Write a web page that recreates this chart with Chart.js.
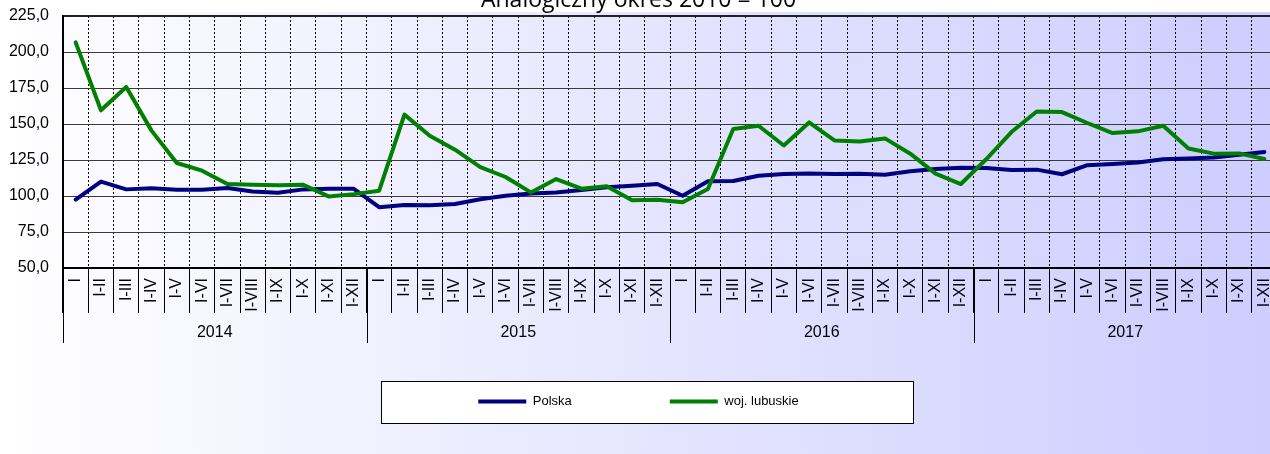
<!DOCTYPE html>
<html>
<head>
<meta charset="utf-8">
<script src="https://cdn.jsdelivr.net/npm/chart.js@4/dist/chart.umd.min.js"></script>
<style>
  html, body { margin: 0; padding: 0; background: #fff; overflow: hidden; width: 1270px; height: 454px; }
  #wrap { position: absolute; left: 0; top: -13px; width: 1294px; height: 467px; }
</style>
</head>
<body>
<div id="wrap"><canvas id="c" width="1294" height="467"></canvas></div>
<script>
const titleText = 'Analogiczny okres 2010 = 100';
const years = ['2014', '2015', '2016', '2017'];
const months = ['I', 'I-II', 'I-III', 'I-IV', 'I-V', 'I-VI', 'I-VII', 'I-VIII', 'I-IX', 'I-X', 'I-XI', 'I-XII'];
const seriesNames = ['Polska', 'woj. lubuskie'];
const yTicks = { min: 50, max: 225, step: 25 };

const polska = [
  97.5, 110.0, 104.6, 105.3, 104.4, 104.4, 105.5, 103.2, 102.3, 104.6, 105.0, 105.0,
  92.2, 93.8, 93.5, 94.4, 97.7, 100.2, 101.8, 102.5, 104.1, 106.0, 107.2, 108.3,
  100.2, 110.2, 110.4, 114.1, 115.3, 115.7, 115.3, 115.5, 114.8, 117.2, 118.8, 119.7,
  119.5, 118.1, 118.3, 115.1, 121.4, 122.3, 123.2, 125.5, 126.0, 126.7, 128.6, 130.6
];
const lubuskie = [
  206.7, 159.5, 175.7, 145.4, 122.9, 117.6, 108.3, 107.8, 107.4, 107.8, 99.7, 101.3,
  103.7, 156.5, 141.9, 132.2, 120.1, 113.2, 102.5, 111.8, 105.1, 106.7, 97.0, 97.4,
  95.6, 104.9, 146.5, 148.8, 135.1, 151.1, 138.6, 137.9, 140.0, 129.4, 115.5, 108.3,
  125.5, 144.4, 158.7, 158.3, 150.7, 143.7, 144.9, 148.8, 133.0, 129.4, 129.6, 125.7
];

const categories = [];
years.forEach(() => months.forEach(m => categories.push(m)));

Chart.defaults.font.family = "'Liberation Sans', Arial, sans-serif";
Chart.defaults.color = '#000';

const legendMovePlugin = {
  id: 'legendMove',
  afterLayout(chart) {
    const lg = chart.legend;
    lg.top = chart.chartArea.bottom + 29;
    lg.height = 140;
    lg.bottom = lg.top + lg.height;
  }
};

const bgPlugin = {
  id: 'bg',
  beforeDraw(chart) {
    const ctx = chart.ctx, w = chart.width, h = chart.height;
    ctx.save();
    ctx.fillStyle = '#ffffff';
    ctx.fillRect(0, 0, w, h);
    const g = ctx.createLinearGradient(0, 0, w, 0);
    g.addColorStop(0, '#ffffff');
    g.addColorStop(1, '#ccccff');
    ctx.fillStyle = g;
    ctx.fillRect(0, 25, w, h - 25);
    // legend frame
    const lg = chart.legend;
    const pad = lg.options.labels.padding;
    const cy = lg.top + pad + 7;
    const bw = 532, bh = 42;
    const bx = Math.round(chart.width / 2 - bw / 2) + 0.5;
    const by = Math.round(cy - bh / 2) + 0.5;
    ctx.fillStyle = '#ffffff';
    ctx.fillRect(bx, by, bw, bh);
    ctx.strokeStyle = '#000';
    ctx.lineWidth = 1;
    ctx.strokeRect(bx, by, bw, bh);
    ctx.restore();
  }
};

const yearPlugin = {
  id: 'years',
  afterDraw(chart) {
    const ctx = chart.ctx, xs = chart.scales.x, area = chart.chartArea;
    const n = months.length;
    ctx.save();
    ctx.strokeStyle = '#000';
    ctx.lineWidth = 1;
    for (let k = 0; k <= years.length; k++) {
      let x;
      if (k === 0) x = area.left;
      else if (k === years.length) x = area.right;
      else x = (xs.getPixelForValue(k * n - 1) + xs.getPixelForValue(k * n)) / 2;
      x = Math.round(x) + 0.5;
      ctx.beginPath();
      ctx.moveTo(x, area.bottom);
      ctx.lineTo(x, area.bottom + 75);
      ctx.stroke();
    }
    ctx.fillStyle = '#000';
    ctx.font = "16px 'Liberation Sans', Arial, sans-serif";
    ctx.textAlign = 'center';
    ctx.textBaseline = 'middle';
    years.forEach((yr, k) => {
      const x = (xs.getPixelForValue(k * n) + xs.getPixelForValue(k * n + n - 1)) / 2;
      ctx.fillText(yr, x, area.bottom + 65);
    });
    ctx.restore();
  }
};

new Chart(document.getElementById('c'), {
  type: 'line',
  data: {
    labels: categories,
    datasets: [
      { label: seriesNames[0], data: polska, borderColor: '#000080', backgroundColor: '#000080',
        borderWidth: 4, pointRadius: 0, tension: 0, borderCapStyle: 'round', borderJoinStyle: 'round', order: 1 },
      { label: seriesNames[1], data: lubuskie, borderColor: '#008000', backgroundColor: '#008000',
        borderWidth: 4, pointRadius: 0, tension: 0, borderCapStyle: 'round', borderJoinStyle: 'round', order: 0 }
    ]
  },
  options: {
    responsive: false,
    animation: false,
    devicePixelRatio: 1,
    layout: { padding: { left: 0, right: 17, top: 0, bottom: 46 } },
    plugins: {
      tooltip: { enabled: false },
      title: {
        display: true, text: titleText, color: '#000',
        font: { family: "'Open Sans', sans-serif", size: 23, weight: 'normal' },
        padding: { top: 0, bottom: 1.4 }
      },
      legend: {
        display: true, position: 'bottom', maxHeight: 60,
        labels: {
          usePointStyle: true, pointStyle: 'line', pointStyleWidth: 48,
          padding: 98, color: '#000',
          font: { size: 13 },
          sort: (a, b) => a.datasetIndex - b.datasetIndex
        }
      }
    },
    scales: {
      x: {
        type: 'category', offset: true,
        afterFit(scale) { scale.height = 80; },
        grid: {
          offset: true, color: '#000', lineWidth: 1, drawTicks: true, tickLength: 45,
          tickColor: '#000', tickWidth: 1, tickBorderDash: []
        },
        border: { display: true, color: '#000', width: 2, dash: [2, 2] },
        ticks: {
          autoSkip: false, maxRotation: 90, minRotation: 90, padding: -35,
          color: '#000', font: { size: 16 }
        }
      },
      y: {
        min: yTicks.min, max: yTicks.max,
        afterFit(scale) { scale.width = 63; },
        grid: {
          color: (c) => c.tick && c.tick.value === yTicks.max ? '#222' : '#3a3a3a',
          lineWidth: (c) => c.tick && c.tick.value === yTicks.max ? 2 : 1,
          drawTicks: false
        },
        border: { display: true, color: '#000', width: 2 },
        ticks: {
          stepSize: yTicks.step, padding: 14, color: '#000', font: { size: 16 },
          callback: (v) => Number(v).toFixed(1).replace('.', ',')
        }
      }
    }
  },
  plugins: [legendMovePlugin, bgPlugin, yearPlugin]
});
</script>
</body>
</html>
